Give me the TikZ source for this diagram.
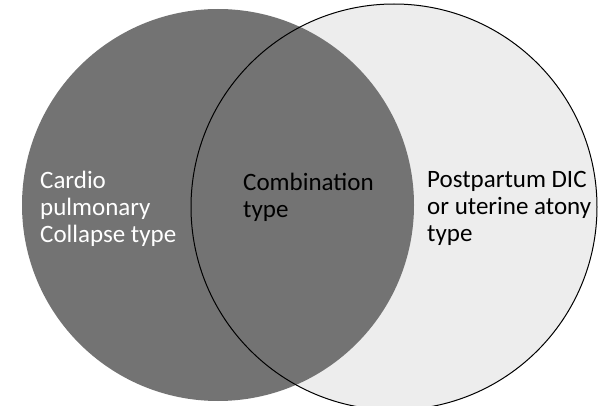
\documentclass[tikz,border=0pt]{standalone}
\usepackage{fontspec}
\setmainfont{Carlito}
\begin{document}
\begin{tikzpicture}[
    x=1pt, y=-1pt,  % Unités en points, axe y vers le bas
    set/.style={circle, inner sep=0pt}, % Cercles des ensembles
    typelabel/.style={anchor=base west, align=left, inner sep=0pt,
        font=\fontsize{25}{27}\selectfont} % Textes des types (base = dernière ligne)
]
\useasboundingbox (0,0) rectangle (603,406);
% Ensembles
\node[set, fill=black!7, minimum size=406pt] (obstetric) at (394,207) {};
\node[set, fill=black!55, minimum size=392pt] (cardiac) at (218,205) {};
\draw[line width=1pt] (obstetric.center) circle[radius=203pt];
% Étiquettes
\node[typelabel, text=white] (cardio) at (40,243) {Cardio\\pulmonary\\Collapse type};
\node[typelabel] (combination) at (243,218) {Combination\\type};
\node[typelabel] (postpartum) at (427,242) {Postpartum DIC\\or uterine atony\\type};
\end{tikzpicture}
\end{document}
